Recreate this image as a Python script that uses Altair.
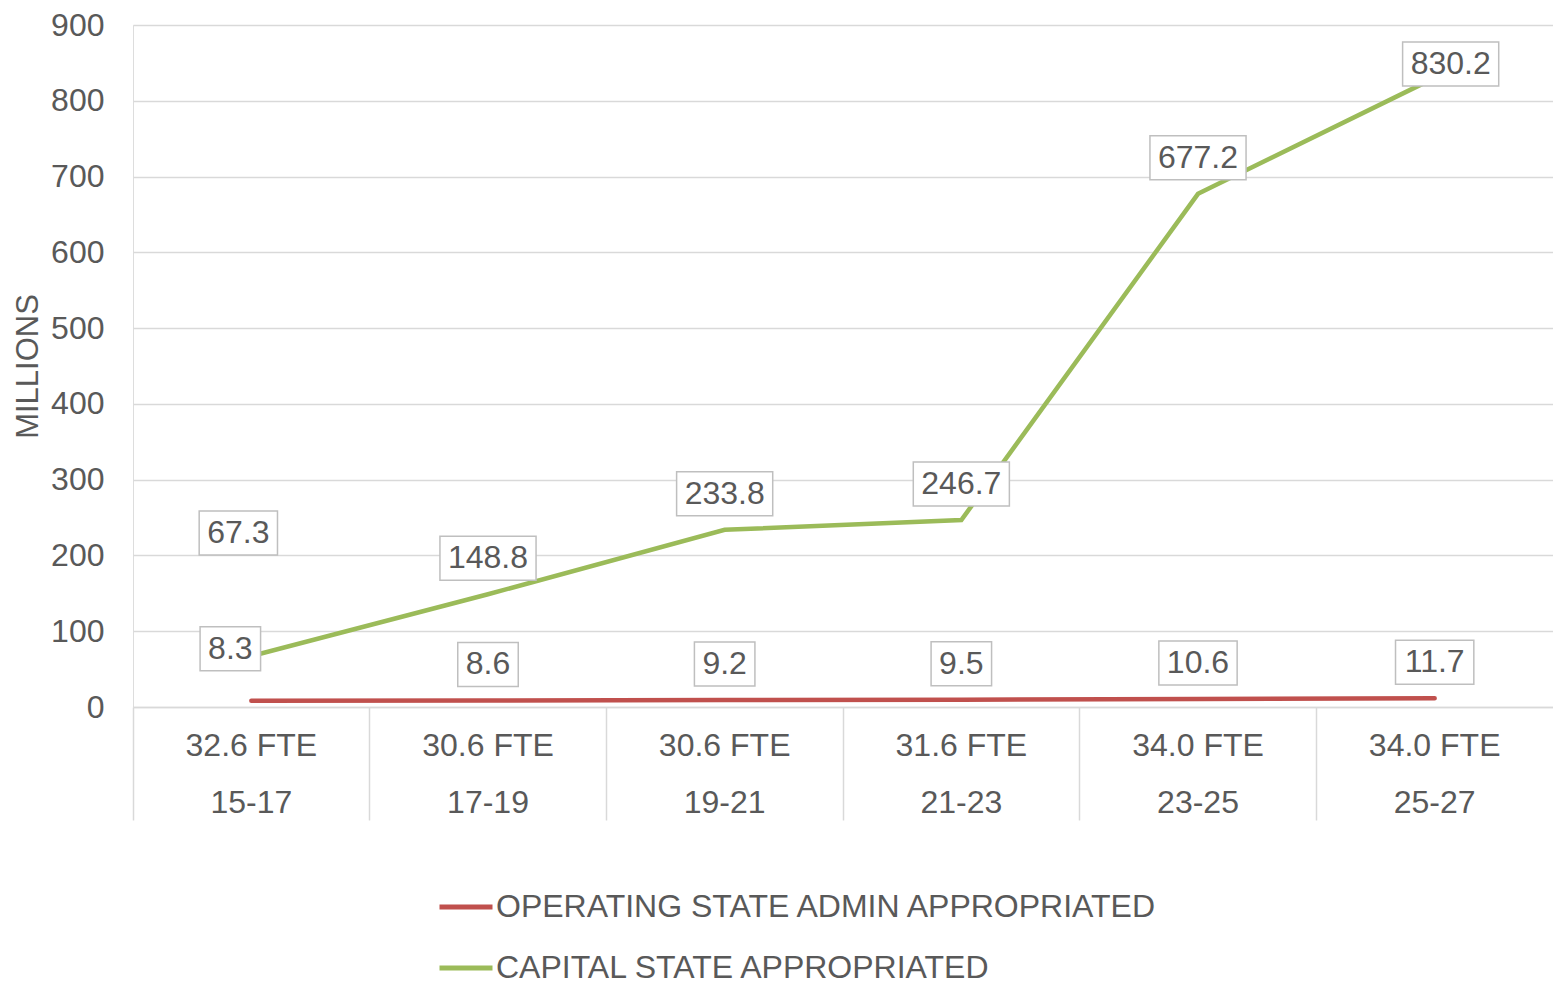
import altair as alt
import pandas as pd

periods = ["15-17", "17-19", "19-21", "21-23", "23-25", "25-27"]
fte = ["32.6 FTE", "30.6 FTE", "30.6 FTE", "31.6 FTE", "34.0 FTE", "34.0 FTE"]
operating = [8.3, 8.6, 9.2, 9.5, 10.6, 11.7]
capital = [67.3, 148.8, 233.8, 246.7, 677.2, 830.2]
series_names = ["OPERATING STATE ADMIN APPROPRIATED", "CAPITAL STATE APPROPRIATED"]
colors = ["#C0504D", "#9BBB59"]

# manual data-label nudges (pixels), as placed in the original
op_label_dx = [-21, 0, 0, 0, 0, 0]
op_label_dy = [-52, -36, -36, -36, -36, -36]
cap_label_dx = [-13, 0, 0, 0, 0, 16]
cap_label_dy = [-123, -36, -36, -36, -36, -14]

cats = [f"{f}|{p}" for f, p in zip(fte, periods)]
rows = []
for i, c in enumerate(cats):
    rows.append(dict(cat=c, series=series_names[0], value=operating[i],
                     dx=op_label_dx[i], dy=op_label_dy[i]))
    rows.append(dict(cat=c, series=series_names[1], value=capital[i],
                     dx=cap_label_dx[i], dy=cap_label_dy[i]))
df = pd.DataFrame(rows)

W = 1420
H = 682
FONT = "Liberation Sans"
TXT = "#595959"
GRID = "#D9D9D9"

x = alt.X("cat:N", sort=cats,
          scale=alt.Scale(type="band", paddingInner=0, paddingOuter=0),
          axis=alt.Axis(title=None, labelExpr="split(datum.value, '|')",
                        labelAngle=0, bandPosition=0,
                        ticks=True, tickSize=113, tickColor=GRID, tickWidth=1.5,
                        domainColor=GRID, domainWidth=1.5,
                        labelFontSize=32, labelColor=TXT, labelFont=FONT,
                        labelPadding=-90, labelLineHeight=57, labelBaseline="top",
                        grid=False))
y = alt.Y("value:Q", scale=alt.Scale(domain=[0, 900], nice=False),
          axis=alt.Axis(values=list(range(0, 901, 100)), title="MILLIONS",
                        titleFontSize=31, titleFontWeight="normal", titleColor=TXT,
                        titleFont=FONT, titlePadding=6,
                        domain=False, ticks=False, labelFontSize=32,
                        labelColor=TXT, labelFont=FONT, labelPadding=29,
                        gridColor=GRID, gridWidth=1.5))

base = alt.Chart(df)

lines = base.mark_line(strokeWidth=4.5, strokeCap="round").encode(
    x=x, y=y,
    color=alt.Color("series:N",
                    scale=alt.Scale(domain=series_names, range=colors),
                    legend=alt.Legend(title=None, orient="none", legendX=304,
                                      legendY=853, direction="vertical",
                                      symbolType="stroke", symbolSize=2809,
                                      symbolStrokeWidth=5, labelFontSize=32,
                                      labelColor=TXT, labelFont=FONT,
                                      labelOffset=1, labelLimit=0, rowPadding=16)),
    detail="series:N",
)

boxes = base.transform_calculate(
    label="format(datum.value, '.1f')"
).transform_calculate(
    bw="length(datum.label) * 17.8 + 7.1"
).mark_rect(width=alt.ExprRef(expr="datum.bw"), height=44, fill="white",
            stroke="#BFBFBF", strokeWidth=1.5,
            xOffset=alt.ExprRef(expr="datum.dx"),
            yOffset=alt.ExprRef(expr="datum.dy")).encode(
    x=x, y=y,
)

texts = base.transform_calculate(
    label="format(datum.value, '.1f')"
).mark_text(fontSize=32, color=TXT, font=FONT, baseline="middle",
            align="center", dx=alt.ExprRef(expr="datum.dx"),
            dy=alt.ExprRef(expr="datum.dy")).encode(
    x=x, y=y, text="label:N",
)

chart = alt.layer(lines, boxes, texts).properties(
    width=W, height=H,
    autosize=alt.AutoSizeParams(type="none"),
    padding={"top": 17, "left": 125, "right": 0, "bottom": 278},
).configure_view(stroke=None).configure(font=FONT)

chart.save("out.html", embed_options={"renderer": "svg", "actions": False})
